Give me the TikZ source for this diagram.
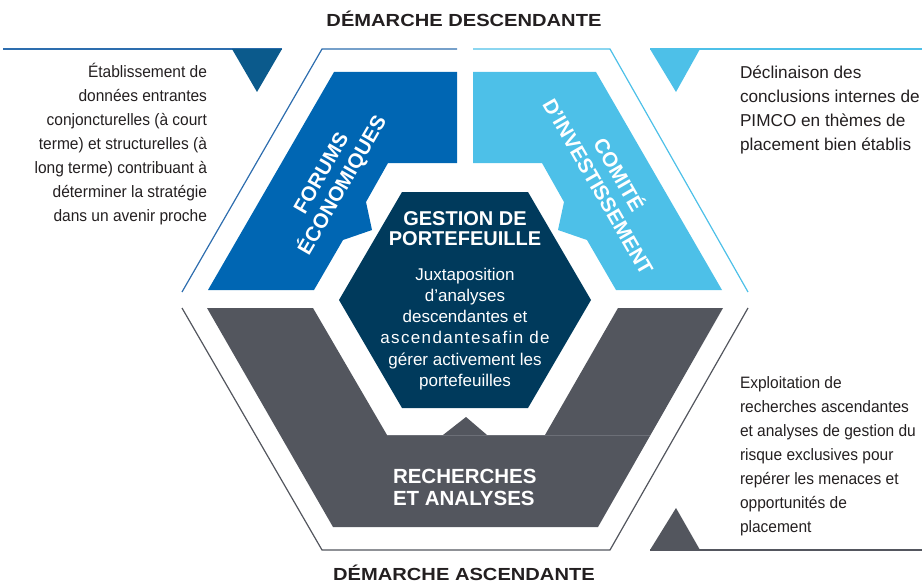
\documentclass[tikz,border=0pt]{standalone}
\usepackage{fontspec}
\setmainfont{Liberation Sans}
\newfontfamily\narrowsf[FakeStretch=0.94]{Liberation Sans}
\newfontfamily\widesf[FakeStretch=1.15]{Liberation Sans}
\usepackage{tikz}
\definecolor{forumblue}{HTML}{0066B3}
\definecolor{comiteblue}{HTML}{4DC0E8}
\definecolor{gestionnavy}{HTML}{003A5C}
\definecolor{rechgray}{HTML}{53565E}
\definecolor{seamgray}{HTML}{6C6F77}
\definecolor{tridark}{HTML}{0B5A8C}
\definecolor{framedark}{HTML}{2D6DAE}
\definecolor{txtgray}{HTML}{231F20}

\begin{document}
\begin{tikzpicture}
		[x=1pt,y=-1pt]
			\tikzstyle{every node}=[inner sep=0pt, outer sep=0pt]
			\tikzstyle{sidetext}=[text=txtgray, font=\narrowsf\fontsize{16.5}{24}\selectfont]
			\tikzstyle{heading}=[text=txtgray, font=\widesf\bfseries\fontsize{17.5}{20}\selectfont, anchor=base]
			\tikzstyle{boxtitle}=[text=white, font=\bfseries\fontsize{20.5}{24}\selectfont, align=center]
			\tikzstyle{frameline}=[line width=1.2pt]
		\useasboundingbox (0,0) rectangle (922,586);
		%-----cadre
		 \draw[frameline, framedark] (3,49) -- (282,49);
		 \draw[frameline, framedark] (182,292) -- (322,49) -- (457,49);
		 \draw[frameline, comiteblue] (473,49) -- (610,49) -- (748,292);
		 \draw[frameline, comiteblue] (650,49) -- (922,49);
		 \draw[frameline, rechgray] (182,308) -- (322,550) -- (610,550) -- (748,308);
		 \draw[frameline, rechgray] (650,550) -- (922,550);
		 \fill[tridark] (232,49) -- (282,49) -- (257,92) -- cycle;
		 \fill[comiteblue] (650,49) -- (700,49) -- (676,92) -- cycle;
		 \fill[rechgray] (650,550) -- (700,550) -- (676,508) -- cycle;
		%-----secteurs
		 \fill[forumblue] (334,72) -- (457,72) -- (457,163) -- (388,163) -- (366,202) -- (372,230) -- (343,240) -- (314,290) -- (208,290) -- cycle;
		 \fill[comiteblue] (473,72) -- (596,72) -- (722,290) -- (616,290) -- (587,240) -- (558,230) -- (564,202) -- (542,163) -- (473,163) -- cycle;
		 \fill[rechgray] (207,308) -- (313,308) -- (387,435) -- (443,435) -- (466,417) -- (487,435) -- (545,435) -- (618,308) -- (723,308) -- (598,527) -- (333,527) -- cycle;
		 \draw[seamgray, line width=0.6pt] (387,435) -- (650,435);
		 \fill[gestionnavy] (402,192) -- (528,192) -- (591,300) -- (528,408) -- (402,408) -- (339,300) -- cycle;
		%-----textes (base = last line)
		 \node[heading] (DESC) at (464,26.7) {DÉMARCHE DESCENDANTE};
		 \node[heading] (ASC) at (464,580) {DÉMARCHE ASCENDANTE};
		 \node[sidetext, align=right, anchor=base east] (FE) at (207,221) {Établissement de\\données entrantes\\conjoncturelles (à court\\terme) et structurelles (à\\long terme) contribuant à\\déterminer la stratégie\\dans un avenir proche};
		 \node[sidetext, font=\fontsize{17.2}{24}\selectfont, align=left, anchor=base west] (CI) at (740,150) {Déclinaison des\\conclusions internes de\\PIMCO en thèmes de\\placement bien établis};
		 \node[sidetext, align=left, anchor=base west] (RA) at (740,532) {Exploitation de\\recherches ascendantes\\et analyses de gestion du\\risque exclusives pour\\repérer les menaces et\\opportunités de\\placement};
		 \node[boxtitle, rotate=60] (FORUMS) at (333,180) {FORUMS\\ÉCONOMIQUES};
		 \node[boxtitle, rotate=-60] (COMITE) at (610,180) {COMITÉ\\D'INVESTISSEMENT};
		 \node[boxtitle, font=\bfseries\fontsize{20}{20.7}\selectfont, anchor=base] (GP) at (465,245.7) {GESTION DE\\PORTEFEUILLE};
		 \node[text=white, font=\fontsize{17}{21.3}\selectfont, align=center, anchor=base] (JUX) at (465,386.5) {Juxtaposition\\d’analyses\\descendantes et\\{\addfontfeature{LetterSpace=8}ascendantesafin de}\\gérer activement les\\portefeuilles};
		 \node[boxtitle, align=left, anchor=base west, font=\bfseries\fontsize{20.5}{22}\selectfont] (RECH) at (393,505) {RECHERCHES\\ET ANALYSES};
\end{tikzpicture}
\end{document}
